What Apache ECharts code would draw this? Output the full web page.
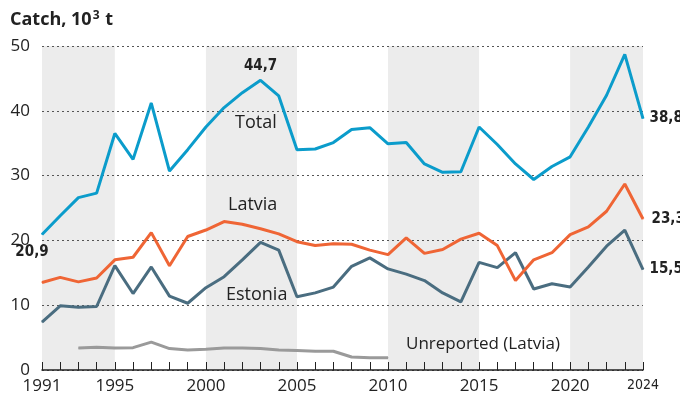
<!DOCTYPE html>
<html>
<head>
<meta charset="utf-8">
<script src="https://cdn.jsdelivr.net/npm/echarts@6/dist/echarts.min.js"></script>
<style>
  html, body { margin: 0; padding: 0; background: #fff; }
  #chart { width: 680px; height: 401px; }
</style>
</head>
<body>
<div id="chart"></div>
<script>
var years = [];
for (var y = 1991; y <= 2024; y++) years.push(String(y));

// catch, thousand tonnes
var total = [20.9, 23.8, 26.6, 27.3, 36.5, 32.5, 41.2, 30.7, 34.0, 37.5, 40.5, 42.8, 44.7, 42.3, 34.0, 34.1, 35.1, 37.1, 37.4, 34.9,
  35.1, 31.8, 30.5, 30.6, 37.5, 34.8, 31.8, 29.4, 31.4, 32.9, 37.5, 42.4, 48.7, 38.8];
var latvia = [13.5, 14.3, 13.6, 14.2, 17.0, 17.4, 21.2, 16.1, 20.6, 21.6, 22.9, 22.5, 21.8, 21.0, 19.8, 19.2, 19.5, 19.4, 18.5, 17.8,
  20.4, 18.0, 18.6, 20.2, 21.1, 19.2, 13.8, 17.0, 18.1, 20.9, 22.1, 24.5, 28.7, 23.3];
var estonia = [7.4, 9.9, 9.7, 9.8, 16.1, 11.8, 15.9, 11.4, 10.3, 12.7, 14.4, 17.0, 19.7, 18.5, 11.3, 11.9, 12.8, 16.0, 17.3, 15.6,
  14.8, 13.8, 11.9, 10.5, 16.6, 15.8, 18.1, 12.5, 13.3, 12.8, 15.9, 19.1, 21.6, 15.5];
var unreported = [null, null, 3.4, 3.5, 3.4, 3.45, 4.3, 3.3, 3.1, 3.2, 3.4, 3.4, 3.3, 3.1, 3.0, 2.9, 2.9, 2.0, 1.9, 1.9];

var shadedBands = [['1991', '1995'], ['2000', '2005'], ['2010', '2015'], ['2020', '2024']];
var shownYears = ['1991', '1995', '2000', '2005', '2010', '2015', '2020', '2024'];

var fontMain = '"Open Sans", "Noto Sans", sans-serif';
var fontBold = '"Liberation Sans Narrow", "DejaVu Sans Condensed", "Open Sans", sans-serif';

function fmt(v) { return v.toFixed(1).replace('.', ','); }

// put a bold value label on selected points
function withLabels(values, marks) {
  return values.map(function (v, i) {
    if (marks[i]) {
      return {
        value: v,
        label: {
          show: true,
          position: marks[i].pos,
          distance: marks[i].dist,
          offset: marks[i].off || [0, 0],
          formatter: fmt(v),
          fontFamily: fontBold,
          fontWeight: 'bold',
          fontSize: 15,
          color: '#222'
        }
      };
    }
    return v;
  });
}

function lineSeries(name, data, color, z) {
  return {
    name: name,
    type: 'line',
    data: data,
    symbol: 'circle',
    symbolSize: 1,
    showSymbol: true,
    itemStyle: { color: color },
    lineStyle: { color: color, width: 3 },
    label: { show: false },
    z: z
  };
}

var myChart = echarts.init(document.getElementById('chart'));
var option = {
  animation: false,
  title: {
    text: '{a|Catch, 10}{s|3}{a| t}',
    left: 5,
    top: 5,
    textStyle: {
      rich: {
        a: { fontFamily: fontMain, fontWeight: 'bold', fontSize: 18, color: '#222' },
        s: { fontFamily: fontMain, fontWeight: 'bold', fontSize: 12, color: '#222', verticalAlign: 'top', padding: [0, 1, 8, 1] }
      }
    }
  },
  grid: { left: 42, right: 37, top: 46, bottom: 31 },
  xAxis: {
    type: 'category',
    data: years,
    boundaryGap: false,
    z: 3,
    axisLine: { lineStyle: { color: '#222', width: 1.5 } },
    axisTick: { inside: true, length: 8, interval: 0, lineStyle: { color: '#222' } },
    axisLabel: {
      interval: function (i, v) { return shownYears.indexOf(v) >= 0; },
      margin: 8,
      fontFamily: fontMain,
      fontSize: 17,
      color: '#222',
      formatter: function (v) { return v === '2024' ? '{n|' + v + '}' : v; },
      rich: { n: { fontFamily: fontBold, fontSize: 14, color: '#222' } }
    },
    splitLine: { show: false }
  },
  yAxis: {
    type: 'value',
    min: 0,
    max: 50,
    interval: 10,
    z: 3,
    axisLine: { show: false },
    axisTick: { show: false },
    axisLabel: { margin: 12, fontFamily: fontMain, fontSize: 17, color: '#222' },
    splitLine: { lineStyle: { color: '#555', type: [2, 3], width: 1 } }
  },
  series: [
    {
      name: 'bands',
      type: 'line',
      data: [],
      silent: true,
      markArea: {
        silent: true,
        itemStyle: { color: '#ececec' },
        data: shadedBands.map(function (b) { return [{ xAxis: b[0] }, { xAxis: b[1] }]; })
      },
      z: 1
    },
    lineSeries('Unreported (Latvia)', unreported, '#9a9a9a', 4),
    lineSeries('Estonia', withLabels(estonia, { 33: { pos: 'right', dist: 6 } }), '#4a6d80', 5),
    lineSeries('Latvia', withLabels(latvia, { 33: { pos: 'right', dist: 8 } }), '#ef6535', 6),
    lineSeries('Total', withLabels(total, {
      0: { pos: 'bottom', dist: 10, off: [-10, 0] },
      12: { pos: 'top', dist: 6 },
      33: { pos: 'right', dist: 6 }
    }), '#0b9ccb', 7)
  ],
  graphic: [
    { type: 'text', z: 100, left: 235, top: 114, style: { text: 'Total', font: '18px ' + fontMain, fill: '#222' } },
    { type: 'text', z: 100, left: 228, top: 196, style: { text: 'Latvia', font: '18px ' + fontMain, fill: '#222' } },
    { type: 'text', z: 100, left: 226, top: 286, style: { text: 'Estonia', font: '18px ' + fontMain, fill: '#222' } },
    { type: 'text', z: 100, left: 406, top: 336, style: { text: 'Unreported (Latvia)', font: '17px ' + fontMain, fill: '#222' } }
  ]
};
myChart.setOption(option);
</script>
</body>
</html>
